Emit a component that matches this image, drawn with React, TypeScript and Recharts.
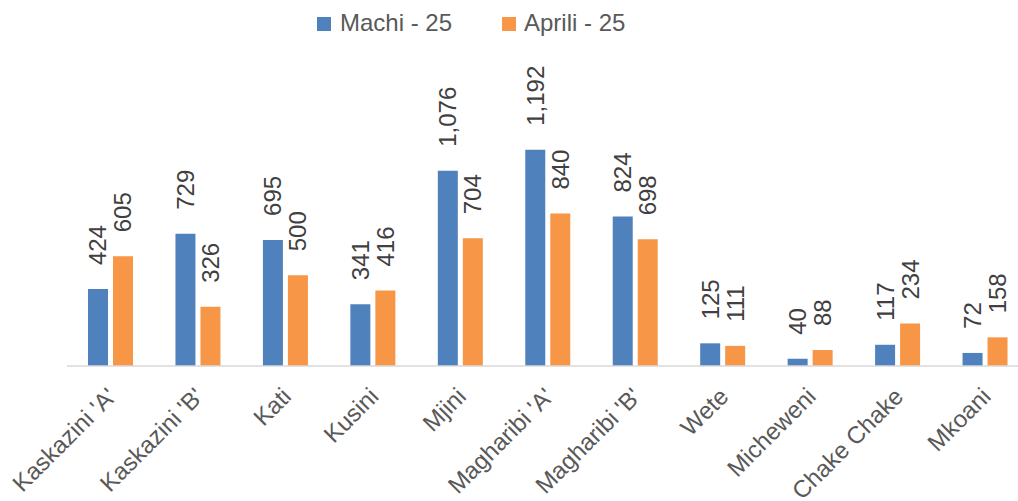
import React from "react";
import { BarChart, Bar, XAxis, YAxis, LabelList } from "recharts";

const categories = [
  "Kaskazini 'A'",
  "Kaskazini 'B'",
  "Kati",
  "Kusini",
  "Mjini",
  "Magharibi 'A'",
  "Magharibi 'B'",
  "Wete",
  "Micheweni",
  "Chake Chake",
  "Mkoani",
];
const machi = [424, 729, 695, 341, 1076, 1192, 824, 125, 40, 117, 72];
const aprili = [605, 326, 500, 416, 704, 840, 698, 111, 88, 234, 158];
const seriesNames = ["Machi - 25", "Aprili - 25"];
const seriesColors = ["#4f81bd", "#f79646"];

const data = categories.map((name, i) => ({ name, machi: machi[i], aprili: aprili[i] }));

const FONT = "'Liberation Sans', Arial, sans-serif";

const fmt = (v: number) => v.toLocaleString("en-US");

const renderLabel = (props: any) => {
  const { x, y, width, value } = props;
  const cx = Number(x) + Number(width) / 2;
  const px = cx + 8.5;
  const py = Number(y) - 24;
  return (
    <text
      x={px}
      y={py}
      transform={`rotate(-90 ${px} ${py})`}
      fill="#404040"
      fontSize={24}
      fontFamily={FONT}
    >
      {fmt(Number(value))}
    </text>
  );
};

const XTick = (props: any) => {
  const { x, y, payload } = props;
  const ax = Number(x) + 7;
  const ay = Number(y) + 32;
  return (
    <text
      x={ax}
      y={ay}
      transform={`rotate(-45 ${ax} ${ay})`}
      textAnchor="end"
      fill="#595959"
      fontSize={24}
      fontFamily={FONT}
    >
      {payload.value}
    </text>
  );
};

export default function App() {
  return (
    <div
      style={{
        position: "absolute",
        left: 0,
        top: 0,
        width: 1018,
        height: 501,
        overflow: "hidden",
        background: "#fff",
      }}
    >
      <svg
        width={1018}
        height={45}
        style={{ position: "absolute", left: 0, top: 0 }}
      >
        <rect x={317} y={17} width={14} height={14} fill={seriesColors[0]} />
        <text x={340} y={31} fontSize={24} fill="#595959" fontFamily={FONT}>
          {seriesNames[0]}
        </text>
        <rect x={502} y={17} width={14} height={14} fill={seriesColors[1]} />
        <text x={524} y={31} fontSize={24} fill="#595959" fontFamily={FONT}>
          {seriesNames[1]}
        </text>
      </svg>
      <div style={{ position: "absolute", left: 0, top: 0 }}>
        <BarChart
          width={1040}
          height={501}
          data={data}
          margin={{ top: 112, right: 11, left: 67, bottom: 75 }}
          barSize={20}
          barGap={5}
        >
          <XAxis
            dataKey="name"
            interval={0}
            tickLine={false}
            tickSize={0}
            tickMargin={0}
            height={60}
            axisLine={{ stroke: "#d9d9d9", strokeWidth: 1.5 }}
            tick={<XTick />}
          />
          <YAxis hide domain={[0, 1400]} />
          <Bar dataKey="machi" name={seriesNames[0]} fill={seriesColors[0]} isAnimationActive={false}>
            <LabelList dataKey="machi" content={renderLabel} />
          </Bar>
          <Bar dataKey="aprili" name={seriesNames[1]} fill={seriesColors[1]} isAnimationActive={false}>
            <LabelList dataKey="aprili" content={renderLabel} />
          </Bar>
        </BarChart>
      </div>
    </div>
  );
}
